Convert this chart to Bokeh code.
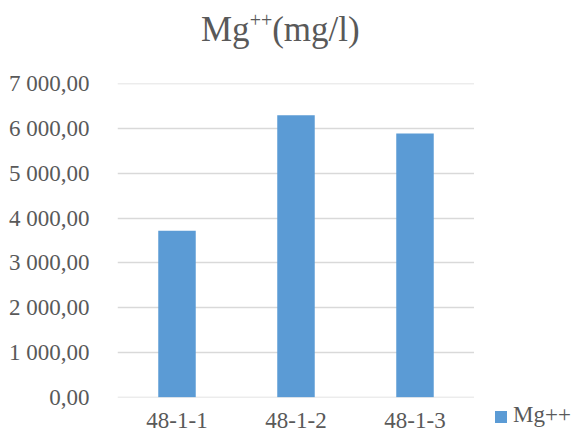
from bokeh.plotting import figure
from bokeh.models import FactorRange, Range1d, FixedTicker, Div
from bokeh.layouts import column, row
from bokeh.embed import file_html
from bokeh.resources import INLINE

# ---- data ----
categories = ["48-1-1", "48-1-2", "48-1-3"]
mg_values = [3720, 6300, 5890]
series_name = "Mg++"
y_ticks = [0, 1000, 2000, 3000, 4000, 5000, 6000, 7000]
y_tick_labels = ["0,00", "1 000,00", "2 000,00", "3 000,00", "4 000,00",
                 "5 000,00", "6 000,00", "7 000,00"]

FONT = "Liberation Serif"
TXT = "#595959"
BAR = "#5B9BD5"
GRID = "#D9D9D9"

DIV_H = 60
FIG_H = 432 - DIV_H
MAIN_W = 474

title = Div(
    text=('<div style="font-family:\'Liberation Serif\';font-size:35px;'
          'color:#595959;line-height:36px;padding-top:12px;padding-left:201px;'
          'white-space:nowrap;">Mg<span style="font-size:20px;position:relative;'
          'top:-14px;">++</span>(mg/l)</div>'),
    width=574, height=DIV_H, margin=0)

p = figure(width=MAIN_W, height=FIG_H, output_backend="svg",
           toolbar_location=None,
           x_range=FactorRange(*categories, range_padding=0),
           y_range=Range1d(-8, 7008),
           min_border_left=117, min_border_right=0,
           min_border_top=83 - DIV_H, min_border_bottom=35, margin=0)
p.outline_line_color = None
p.background_fill_color = "white"
p.border_fill_color = "white"

p.vbar(x=categories, top=mg_values, width=0.315, fill_color=BAR,
       line_color=None)

# axes
p.yaxis.ticker = FixedTicker(ticks=y_ticks)
p.yaxis.major_label_overrides = {t: l for t, l in zip(y_ticks, y_tick_labels)}
for ax in (p.xaxis[0], p.yaxis[0]):
    ax.axis_line_color = None
    ax.major_tick_line_color = None
    ax.minor_tick_line_color = None
    ax.major_label_text_font = FONT
    ax.major_label_text_color = TXT
    ax.major_label_text_font_size = "23px"
p.yaxis.major_label_standoff = 22
p.xaxis.major_label_standoff = 9

p.xgrid.grid_line_color = None
p.ygrid.grid_line_color = GRID
p.ygrid.grid_line_width = 1.5

# legend (swatch + series name) to the right of the plot area
legend_div = Div(
    text=('<div style="font-family:\'Liberation Serif\';font-size:23px;'
          'color:%s;line-height:26px;padding-top:342px;padding-left:21px;'
          'white-space:nowrap;"><span style="display:inline-block;width:12px;'
          'height:12px;background:%s;margin-right:6px;vertical-align:-1px;">'
          '</span>%s</div>') % (TXT, BAR, series_name),
    width=574 - MAIN_W, height=FIG_H, margin=0)

layout = column(title, row(p, legend_div, spacing=0), spacing=0)
open("out.html", "w").write(file_html(layout, INLINE))
